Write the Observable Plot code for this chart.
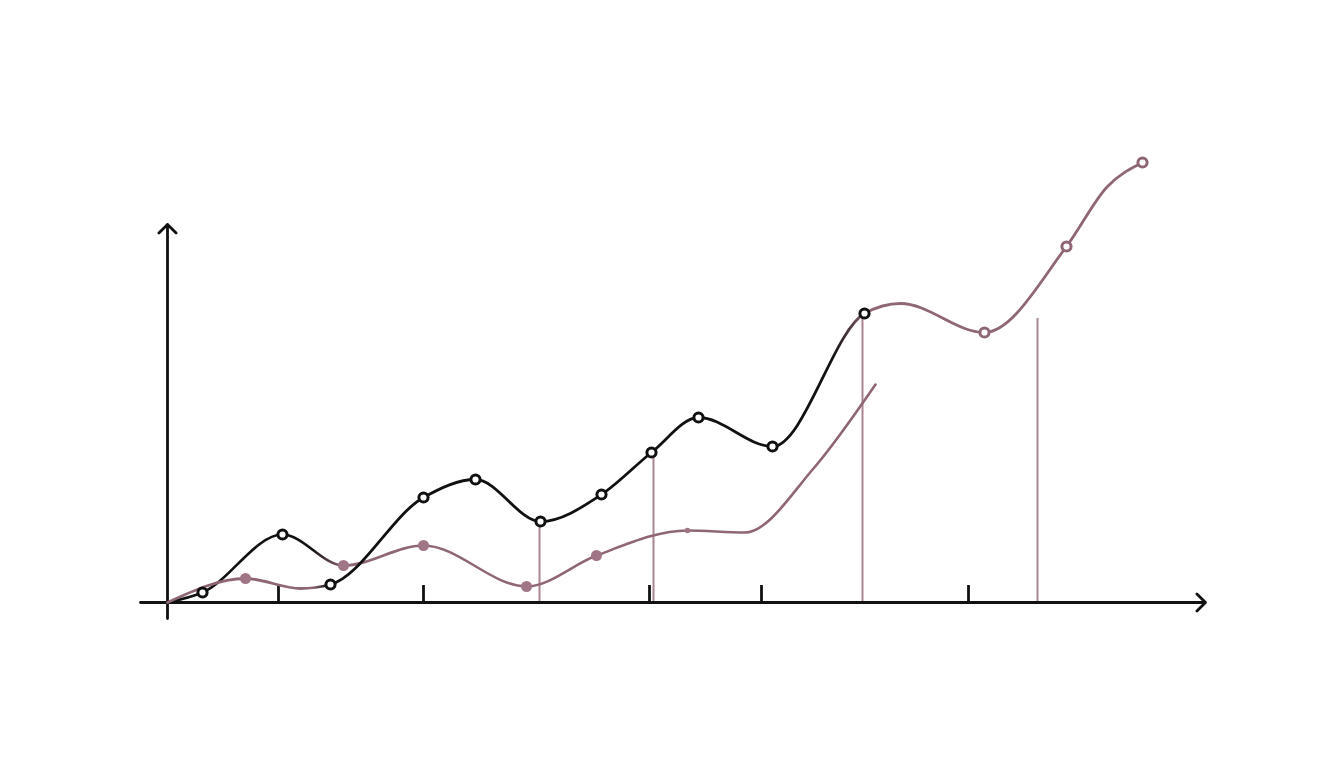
<!DOCTYPE html>
<html>
<head>
<meta charset="utf-8">
<script src="https://cdn.jsdelivr.net/npm/d3@7"></script>
<script src="https://cdn.jsdelivr.net/npm/@observablehq/plot@0.6"></script>
<style>
  html, body { margin: 0; padding: 0; background: #ffffff; }
  #chart svg { display: block; }
</style>
</head>
<body>
<div id="chart"></div>
<script>
// ---- data (arbitrary units: x 0..100, y 0..50) ----
// Upper curve (mauve at start, black in the middle, mauve at the end)
const upperX = [0, 7.8, 13.3, 16.3, 25.6, 30.8, 37.3, 43.4, 48.4, 53.1, 60.5, 69.7, 73.3, 81.7, 89.9, 94.0, 97.5];
const upperY = [0, 2.4, 1.4, 1.8, 10.5, 12.3, 8.1, 10.8, 15.0, 18.5, 15.6, 28.9, 29.9, 27.0, 35.6, 41.6, 44.0];
// Lower curve (black at start, mauve afterwards)
const lowerX = [0, 3.5, 11.5, 17.6, 25.6, 35.9, 42.9, 52.0, 57.7, 64.6, 70.8];
const lowerY = [0, 1.0, 6.8, 3.7, 5.7, 1.6, 4.7, 7.2, 7.0, 13.4, 21.8];

// Open black circle markers
const blackDotX = [3.5, 11.5, 16.3, 25.6, 30.8, 37.3, 43.4, 48.4, 53.1, 60.5, 69.7];
const blackDotY = [1.0, 6.8, 1.8, 10.5, 12.3, 8.1, 10.8, 15.0, 18.5, 15.6, 28.9];
// Filled mauve markers
const mauveDotX = [7.8, 17.6, 25.6, 35.9, 42.9];
const mauveDotY = [2.4, 3.7, 5.7, 1.6, 4.7];
const smallDotX = [52.0];
const smallDotY = [7.2];
// Open mauve circle markers
const mauveRingX = [81.7, 89.9, 97.5];
const mauveRingY = [27.0, 35.6, 44.0];

// Vertical drop lines
const dropX = [37.2, 48.6, 69.5, 87.0];
const dropTop = [8.1, 15.0, 28.9, 28.4];

// Tick positions on the x axis
const tickX = [11.1, 25.6, 48.2, 59.4, 80.1];
const tickLen = 1.7;

// Axis extents
const xAxisFrom = -2.7, xAxisTo = 103.8;
const yAxisFrom = -1.6, yAxisTo = 37.8;

// ---- styles ----
const BLACK = "#111111";
const MAUVE = "#8e6676";
const MAUVE_DOT = "#a07686";
const MAUVE_RULE = "#a98592";

const upper = upperX.map((x, i) => ({x, y: upperY[i]}));
const lower = lowerX.map((x, i) => ({x, y: lowerY[i]}));
const blackDots = blackDotX.map((x, i) => ({x, y: blackDotY[i]}));
const mauveDots = mauveDotX.map((x, i) => ({x, y: mauveDotY[i]}));
const smallDots = smallDotX.map((x, i) => ({x, y: smallDotY[i]}));
const mauveRings = mauveRingX.map((x, i) => ({x, y: mauveRingY[i]}));
const drops = dropX.map((x, i) => ({x, y2: dropTop[i]}));
const ticks = tickX.map(x => ({x}));
const axes = [
  {x1: xAxisFrom, y1: 0, x2: xAxisTo, y2: 0},
  {x1: 0, y1: yAxisFrom, x2: 0, y2: yAxisTo}
];

const chart = Plot.plot({
  width: 1344,
  height: 768,
  marginLeft: 167,
  marginRight: 177,
  marginTop: 102,
  marginBottom: 166,
  x: {domain: [0, 100], axis: null},
  y: {domain: [0, 50], axis: null},
  style: {background: "#ffffff", overflow: "visible"},
  marks: [
    Plot.ruleX(drops, {x: "x", y1: 0, y2: "y2", stroke: MAUVE_RULE, strokeWidth: 2}),
    Plot.ruleX(ticks, {x: "x", y1: 0, y2: tickLen, stroke: BLACK, strokeWidth: 2.8}),
    Plot.arrow(axes, {x1: "x1", y1: "y1", x2: "x2", y2: "y2", stroke: BLACK, strokeWidth: 2.8, headLength: 6.5, headAngle: 90}),
    Plot.line(lower, {x: "x", y: "y", curve: "monotone-x", stroke: "url(#gradLower)", strokeWidth: 2.6}),
    Plot.line(upper, {x: "x", y: "y", curve: "monotone-x", stroke: "url(#gradUpper)", strokeWidth: 2.8}),
    Plot.dot(mauveDots, {x: "x", y: "y", r: 5.5, fill: MAUVE_DOT, stroke: "none"}),
    Plot.dot(smallDots, {x: "x", y: "y", r: 2.8, fill: MAUVE_DOT, stroke: "none"}),
    Plot.dot(blackDots, {x: "x", y: "y", r: 4.6, fill: "#ffffff", stroke: BLACK, strokeWidth: 3}),
    Plot.dot(mauveRings, {x: "x", y: "y", r: 4.6, fill: "#ffffff", stroke: MAUVE, strokeWidth: 3})
  ]
});

// gradients along x (colour change of the curves)
const sx = chart.scale("x");
const ns = "http://www.w3.org/2000/svg";
const defs = document.createElementNS(ns, "defs");
function addGradient(id, stops) {
  const g = document.createElementNS(ns, "linearGradient");
  g.setAttribute("id", id);
  g.setAttribute("gradientUnits", "userSpaceOnUse");
  g.setAttribute("x1", 0); g.setAttribute("x2", 1344);
  g.setAttribute("y1", 0); g.setAttribute("y2", 0);
  for (const [xv, color] of stops) {
    const s = document.createElementNS(ns, "stop");
    s.setAttribute("offset", Math.max(0, Math.min(1, sx.apply(xv) / 1344)));
    s.setAttribute("stop-color", color);
    g.appendChild(s);
  }
  defs.appendChild(g);
}
addGradient("gradLower", [[14.5, BLACK], [17.5, MAUVE]]);
addGradient("gradUpper", [[14.5, MAUVE], [16.2, BLACK], [66.5, BLACK], [70.0, MAUVE]]);
chart.insertBefore(defs, chart.firstChild);

document.getElementById("chart").appendChild(chart);
</script>
</body>
</html>
